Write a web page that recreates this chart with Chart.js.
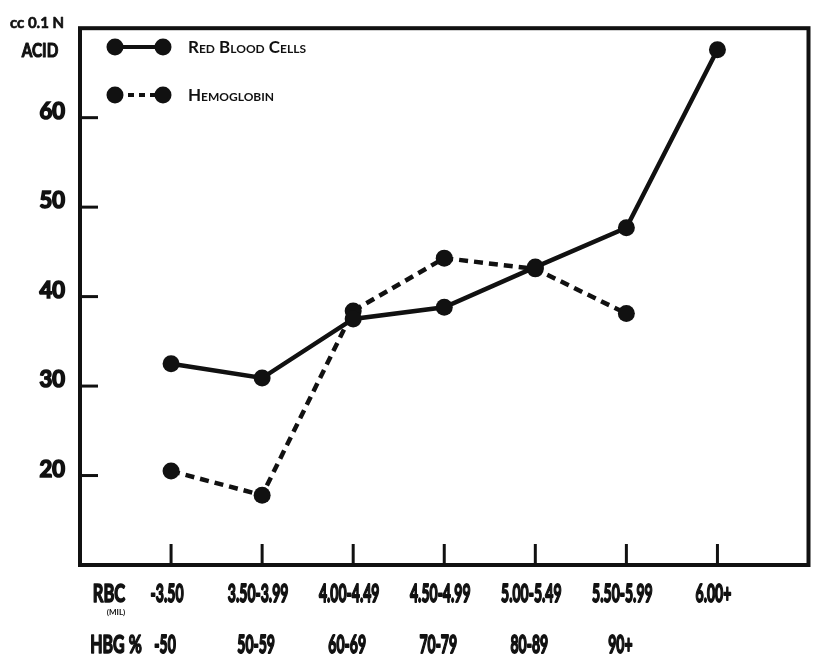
<!DOCTYPE html>
<html>
<head>
<meta charset="utf-8">
<script src="https://cdn.jsdelivr.net/npm/chart.js@4/dist/chart.umd.min.js"></script>
<style>
  html, body { margin: 0; padding: 0; background: #fff; }
  #wrap { width: 817px; height: 661px; position: relative; }
</style>
</head>
<body>
<div id="wrap"><canvas id="c"></canvas></div>
<script>
// ---- data ----
const categories = ['-3.50', '3.50-3.99', '4.00-4.49', '4.50-4.99', '5.00-5.49', '5.50-5.99', '6.00+'];
const hbgLabels = ['-50', '50-59', '60-69', '70-79', '80-89', '90+', ''];
const rbcValues = [32.5, 30.9, 37.5, 38.8, 43.3, 47.7, 67.6];
const hbgValues = [20.5, 17.8, 38.4, 44.3, 43.1, 38.1];
const yTicks = [20, 30, 40, 50, 60];
const seriesNames = ['Red Blood Cells', 'Hemoglobin'];
const rowNames = ['RBC', '(MIL)', 'HBG %'];
const yTitle = ['cc 0.1 N', 'ACID'];

const FONT = 'Lato, "Open Sans", sans-serif';
const INK = '#111';

// draw text squeezed horizontally and thickened (hand-lettered look)
function squeezed(ctx, text, x, y, sx, sw) {
  ctx.save();
  ctx.translate(x, y);
  ctx.scale(sx, 1);
  ctx.lineJoin = 'round';
  ctx.lineWidth = sw;
  ctx.strokeText(text, 0, 0);
  ctx.fillText(text, 0, 0);
  ctx.restore();
}

const decor = {
  id: 'decor',
  afterDraw(chart) {
    const ctx = chart.ctx;
    const a = chart.chartArea;
    const xs = chart.scales.x, ys = chart.scales.y;
    ctx.save();
    ctx.strokeStyle = INK;
    ctx.fillStyle = INK;
    // frame
    ctx.lineWidth = 4;
    ctx.strokeRect(a.left, a.top, a.right - a.left, a.bottom - a.top);
    // inner tick marks y
    ctx.lineWidth = 3;
    yTicks.forEach(v => {
      const y = ys.getPixelForValue(v);
      ctx.beginPath(); ctx.moveTo(a.left, y); ctx.lineTo(a.left + 18, y); ctx.stroke();
    });
    // inner tick marks x
    categories.forEach((c, i) => {
      const x = xs.getPixelForValue(i);
      ctx.beginPath(); ctx.moveTo(x, a.bottom); ctx.lineTo(x, a.bottom - 21); ctx.stroke();
    });
    // category labels, two rows
    ctx.textAlign = 'center';
    ctx.textBaseline = 'middle';
    ctx.font = 'bold 25px ' + FONT;
    categories.forEach((c, i) => {
      const x = xs.getPixelForValue(i);
      squeezed(ctx, c, x - 4, a.bottom + 29, 0.56, 1.8);
      if (hbgLabels[i]) squeezed(ctx, hbgLabels[i], x - 6, a.bottom + 80, 0.56, 1.8);
    });
    // row labels
    squeezed(ctx, rowNames[0], 109, a.bottom + 29, 0.66, 1.6);
    squeezed(ctx, rowNames[2], 116, a.bottom + 80, 0.64, 1.6);
    ctx.font = 'bold 8px ' + FONT;
    ctx.fillText(rowNames[1], 116, a.bottom + 47);
    // axis title
    ctx.font = 'bold 15px ' + FONT;
    squeezed(ctx, yTitle[0], 37, 23, 1, 0.6);
    ctx.font = 'bold 18px ' + FONT;
    squeezed(ctx, yTitle[1], 40, 51, 0.85, 1);
    // legend
    const rows = [{y: 47, dash: []}, {y: 95, dash: [6, 5]}];
    rows.forEach((r, i) => {
      ctx.lineWidth = 4;
      ctx.setLineDash(r.dash);
      ctx.beginPath(); ctx.moveTo(117, r.y); ctx.lineTo(161, r.y); ctx.stroke();
      ctx.setLineDash([]);
      [115, 163].forEach(cx => {
        ctx.beginPath(); ctx.arc(cx, r.y, 8.5, 0, Math.PI * 2); ctx.fill();
      });
      ctx.textAlign = 'left';
      ctx.font = 'small-caps bold 17px ' + FONT;
      try { ctx.fontVariantCaps = 'small-caps'; } catch (e) {}
      ctx.fillText(seriesNames[i], 188, r.y + 1);
    });
    ctx.restore();
  }
};

const mk = arr => arr.map((v, i) => ({x: i, y: v}));

new Chart(document.getElementById('c'), {
  type: 'line',
  data: {
    datasets: [
      {
        label: seriesNames[0],
        data: mk(rbcValues),
        borderColor: INK,
        backgroundColor: INK,
        borderWidth: 4.5,
        pointRadius: 8.5,
        pointBorderWidth: 0,
        pointBackgroundColor: INK,
        tension: 0
      },
      {
        label: seriesNames[1],
        data: mk(hbgValues),
        borderColor: INK,
        backgroundColor: INK,
        borderWidth: 4.5,
        borderDash: [9, 6],
        pointRadius: 8.5,
        pointBorderWidth: 0,
        pointBackgroundColor: INK,
        tension: 0
      }
    ]
  },
  options: {
    responsive: true,
    maintainAspectRatio: false,
    animation: false,
    layout: { padding: { top: 7, right: 5, left: 0, bottom: 0 } },
    plugins: { legend: { display: false }, tooltip: { enabled: false } },
    scales: {
      x: {
        type: 'linear',
        min: -1,
        max: 7,
        grid: { display: false, drawTicks: false },
        border: { display: false },
        afterFit: s => { s.height = 96; },
        ticks: { display: false, stepSize: 1 }
      },
      y: {
        min: 10,
        max: 70,
        grid: { display: false, drawTicks: false },
        border: { display: false },
        afterFit: s => { s.width = 80; },
        ticks: {
          stepSize: 10,
          padding: 15,
          labelOffset: -6,
          color: INK,
          textStrokeColor: INK,
          textStrokeWidth: 1.6,
          font: { family: FONT, size: 22, weight: 'bold' },
          callback: v => yTicks.includes(v) ? String(v) : ''
        }
      }
    }
  },
  plugins: [decor]
});
</script>
</body>
</html>
